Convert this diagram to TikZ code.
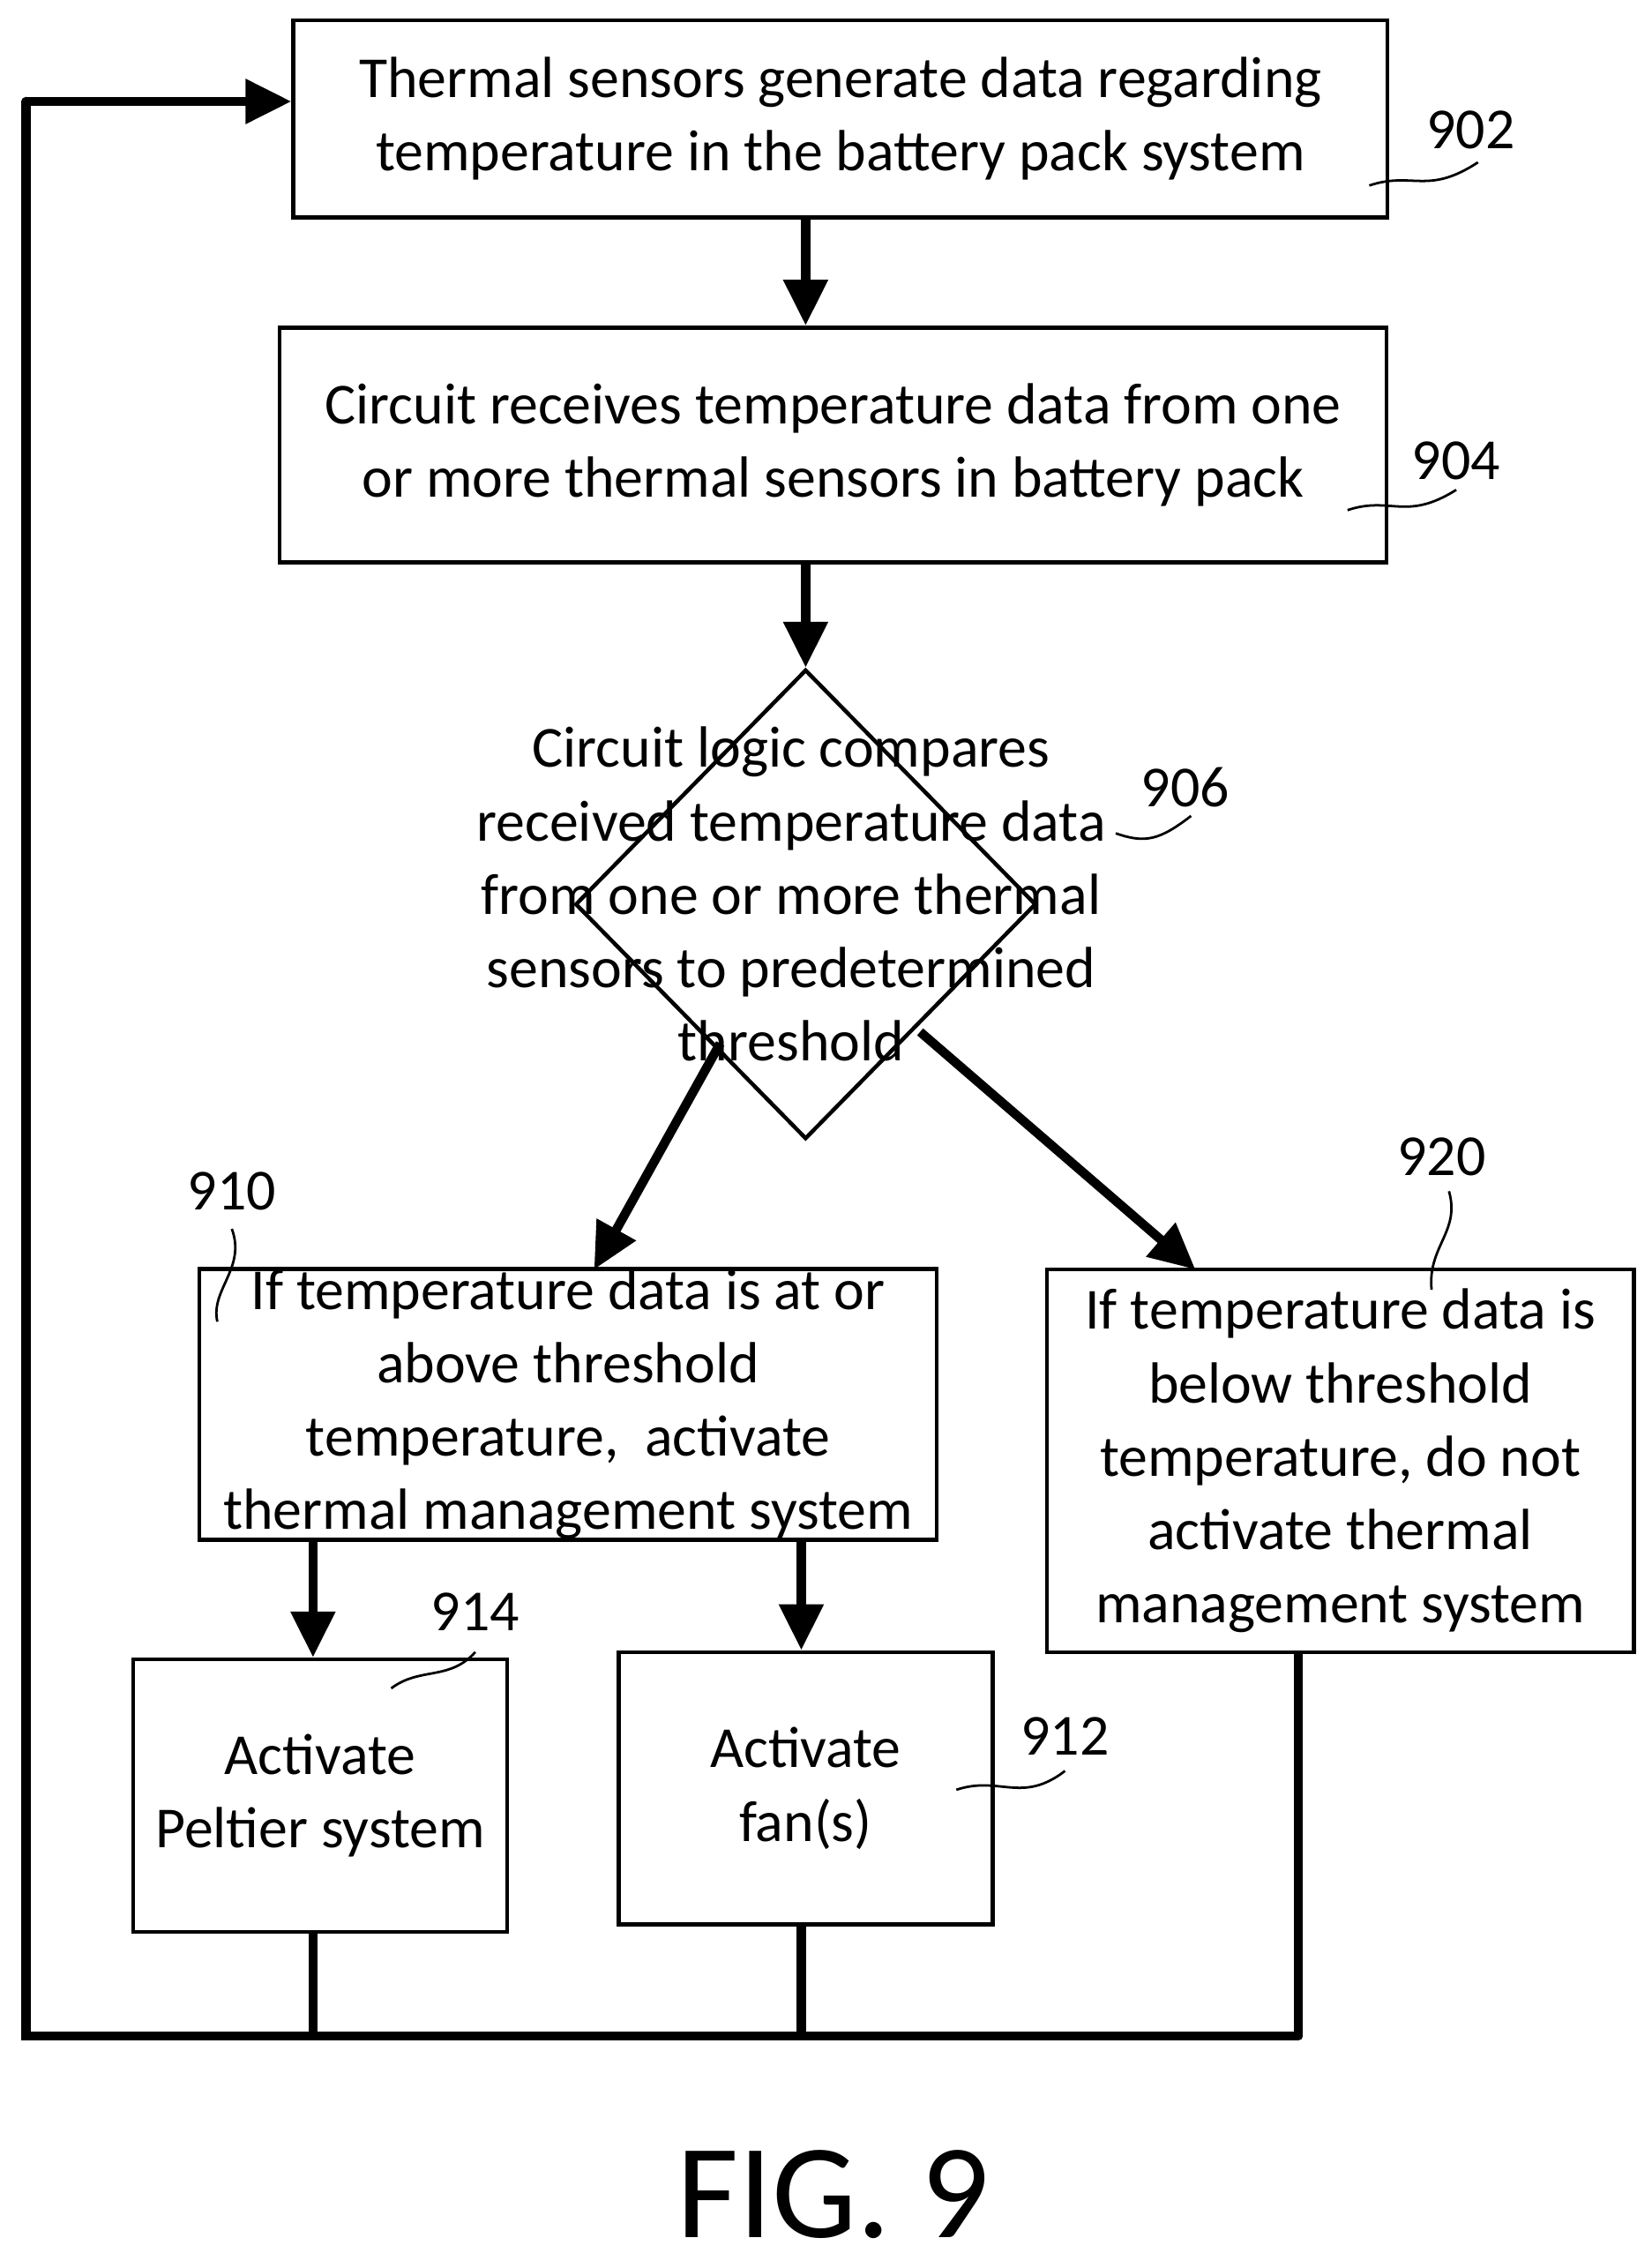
\documentclass[tikz,border=0pt]{standalone}
\usepackage{fontspec}
\setmainfont{Carlito}
\usetikzlibrary{arrows.meta,shapes.geometric}
\def\px{0.016667cm}
\tikzset{
  box/.style={draw,line width=1.3pt,inner sep=0pt,align=center,font=\fontsize{19}{24}\selectfont},
  flow/.style={line width=3pt,-{Triangle[length=15pt,width=14pt]}},
  back/.style={line width=3pt},
  ref/.style={font=\fontsize{19}{23}\selectfont},
  squig/.style={line width=0.8pt}
}
\begin{document}
\begin{tikzpicture}[x=0.016667cm,y=-0.016667cm]
\useasboundingbox (0,0) rectangle (1140,1565);

% boxes
\node[box,minimum width=755*\px,minimum height=136*\px] (b902) at (580,82)
  {Thermal sensors generate data regarding\\temperature in the battery pack system};
\node[box,minimum width=764*\px,minimum height=162*\px] (b904) at (575,307)
  {Circuit receives temperature data from one\\or more thermal sensors in battery pack};
\node[draw,diamond,line width=1.3pt,inner sep=0pt,minimum width=318*\px,minimum height=324*\px] (d906) at (556,624) {};
\node[align=center,font=\fontsize{19}{24}\selectfont] (t906) at (546,617)
  {Circuit logic compares\\received temperature data\\from one or more thermal\\sensors to predetermined\\threshold};
\node[box,minimum width=509*\px,minimum height=187*\px] (b910) at (392,969)
  {If temperature data is at or\\above threshold\\temperature,\ \ activate\\thermal management system};
\node[box,minimum width=405*\px,minimum height=264*\px] (b920) at (925,1008)
  {If temperature data is\\below threshold\\temperature, do not\\activate thermal\\management system};
\node[box,minimum width=258*\px,minimum height=188*\px] (b914) at (221,1239)
  {Activate\\Peltier system};
\node[box,minimum width=258*\px,minimum height=188*\px] (b912) at (556,1234)
  {Activate\\fan(s)};

% connectors
\draw[flow] (b902.south -| 556,0) -- (b904.north -| 556,0);
\draw[flow] (b904.south -| 556,0) -- (d906.north);
\coordinate (c1) at (497,720);
\coordinate (c2) at (635,712);
\draw[flow] (c1) -- (410,876);
\draw[flow] (c2) -- (825,876);
\draw[flow] (b910.south -| 216,0) -- (b914.north -| 216,0);
\draw[flow] (b910.south -| 553,0) -- (b912.north -| 553,0);

% feedback loop
\coordinate (e914) at (216,1405);
\coordinate (e912) at (553,1405);
\coordinate (e920) at (896,1405);
\coordinate (l0) at (18,1405);
\coordinate (l1) at (18,70);
\draw[back] (b914.south -| 216,0) -- (e914);
\draw[back] (b912.south -| 553,0) -- (e912);
\draw[back] (b920.south -| 896,0) -- (e920);
\draw[back,line cap=round] (e920) -- (l0) -- (l1);
\draw[flow] (l1) -- (b902.west |- l1);

% reference numerals
\node[ref] (r902) at (1015,90) {902};
\draw[squig] (945,128) .. controls (975,118) and (985,135) .. (1020,112);
\node[ref] (r904) at (1005,318) {904};
\draw[squig] (930,352) .. controls (960,342) and (970,360) .. (1005,338);
\node[ref] (r906) at (818,543) {906};
\draw[squig] (770,575) .. controls (790,582) and (800,580) .. (822,563);
\node[ref] (r910) at (160,822) {910};
\draw[squig] (150,912) .. controls (145,890) and (170,875) .. (160,848);
\node[ref] (r920) at (995,798) {920};
\draw[squig] (988,890) .. controls (985,860) and (1008,850) .. (1000,822);
\node[ref] (r914) at (328,1112) {914};
\draw[squig] (270,1165) .. controls (290,1150) and (310,1160) .. (328,1140);
\node[ref] (r912) at (735,1198) {912};
\draw[squig] (660,1235) .. controls (690,1225) and (705,1245) .. (735,1222);

\node[font=\fontsize{44}{50}\selectfont] (fig) at (575,1514) {FIG. 9};
\end{tikzpicture}
\end{document}
